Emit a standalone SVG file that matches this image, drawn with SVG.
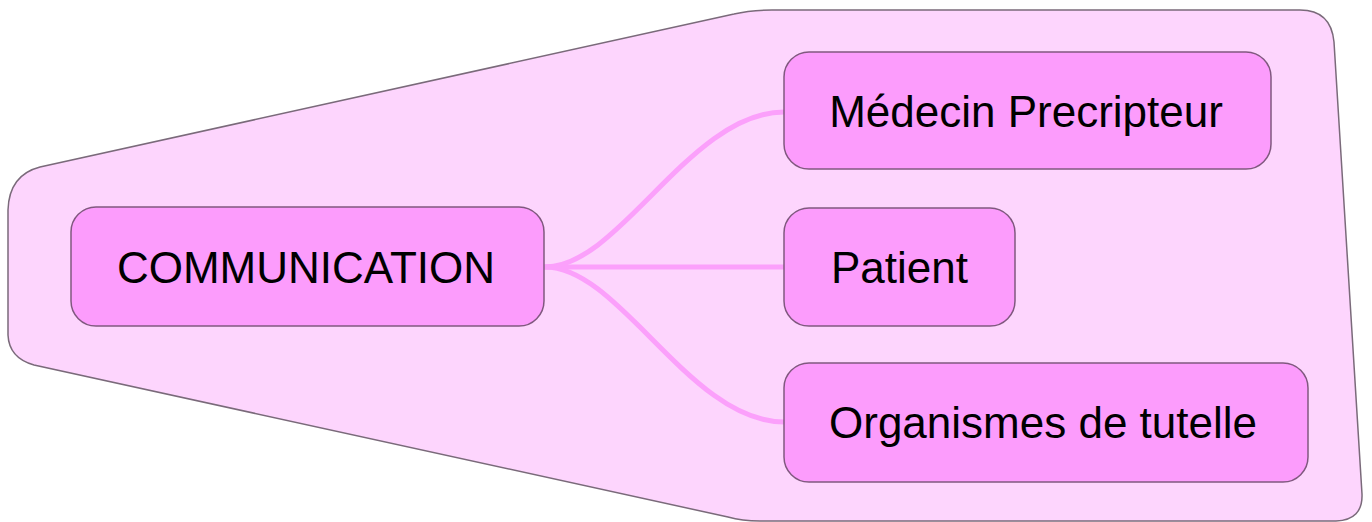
<svg xmlns="http://www.w3.org/2000/svg" width="1372" height="522" viewBox="0 0 1372 522">
<style>
.bg{fill:#fdd5fd;stroke:#7a6a7a;stroke-width:1.5}
.node rect{fill:#fc9cfc;stroke:#80587f;stroke-width:1.5}
.node text{font-family:"Liberation Sans",Arial,sans-serif;font-size:44px;fill:#000;text-anchor:middle}
.conn path{fill:none;stroke:#fba0fb;stroke-width:5;stroke-linecap:round}
</style>
<rect width="1372" height="522" fill="#ffffff"/>
<path class="bg" d="M 8 210 C 8 250 8 300 8 335 Q 9 358 34 365 L 728 517 Q 742 521 760 521 L 1336 521 Q 1363 520 1362 494 L 1334 42 Q 1331 10 1300 10 L 772 10 Q 750 10 734 14 L 40 167 Q 9 175 8 210 Z"/>
<g class="conn">
<path d="M 545 267 C 620 267 690 112 784 112"/>
<path d="M 545 267 L 784 267"/>
<path d="M 545 267 C 620 267 690 422 784 422"/>
</g>
<g id="communication" class="node">
<rect x="71" y="207" width="473" height="119" rx="25"/>
<text x="306" y="283">COMMUNICATION</text>
</g>
<g id="medecin" class="node">
<rect x="784" y="52" width="487" height="117" rx="25"/>
<text x="1026" y="127">Médecin Precripteur</text>
</g>
<g id="patient" class="node">
<rect x="784" y="208" width="231" height="118" rx="25"/>
<text x="899.5" y="283">Patient</text>
</g>
<g id="organismes" class="node">
<rect x="784" y="363" width="524" height="119" rx="25"/>
<text x="1043" y="438">Organismes de tutelle</text>
</g>
</svg>
